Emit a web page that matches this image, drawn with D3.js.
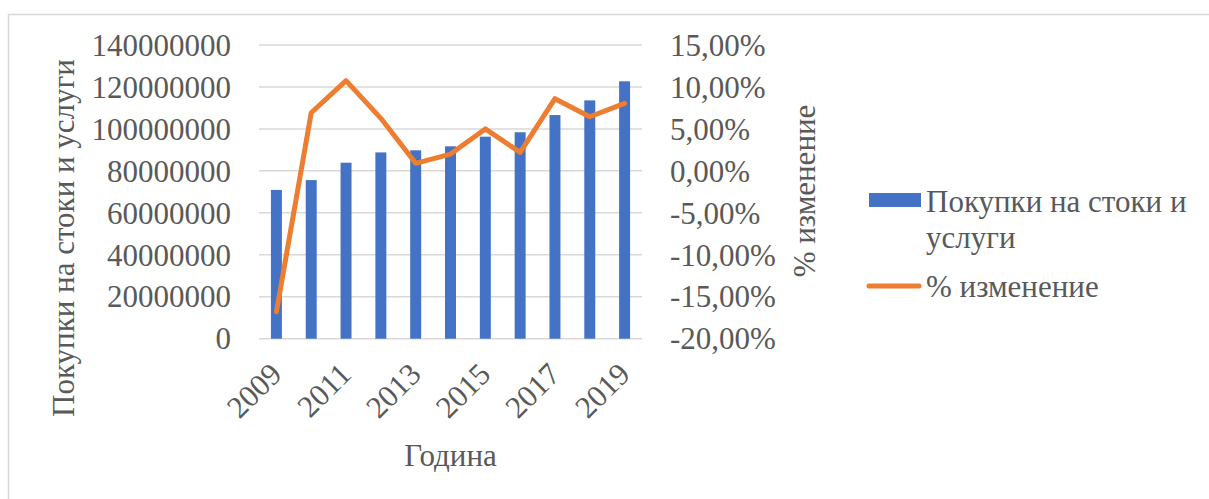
<!DOCTYPE html>
<html><head><meta charset="utf-8">
<script src="https://cdn.jsdelivr.net/npm/d3@7"></script>
<style>
html,body{margin:0;padding:0;background:#fff;}
svg{display:block;}
</style></head>
<body>
<svg id="c" width="1209" height="499"></svg>
<script>
const years = [2009,2010,2011,2012,2013,2014,2015,2016,2017,2018,2019];
const purchases = [70900000,75600000,83900000,88800000,89800000,91700000,96300000,98400000,106600000,113600000,122700000];
const pctChange = [-0.168,0.0693,0.1075,0.0626,0.009,0.020,0.050,0.022,0.086,0.0645,0.0805];
const leftTicks = [0,20000000,40000000,60000000,80000000,100000000,120000000,140000000];
const rightTicks = [-0.20,-0.15,-0.10,-0.05,0,0.05,0.10,0.15];
const xTickYears = [2009,2011,2013,2015,2017,2019];
const seriesNames = ["Покупки на стоки и услуги","% изменение"];
const legendLines = ["Покупки на стоки и","услуги"];
const axisTitles = {left:"Покупки на стоки и услуги", right:"% изменение", x:"Година"};

const svg = d3.select("#c");
const FS = 31;
const FONT = '"Liberation Serif"';
const TXT = "#595959";
const plot = {l:259, r:642, t:45, b:338.7};

function styleText(sel){
  return sel.style("font-family",FONT).style("font-size",FS+"px").style("fill",TXT);
}

// chart border
svg.append("path").attr("d","M8.5,499 L8.5,14.5 L1209,14.5")
  .attr("fill","none").attr("stroke","#d9d9d9").attr("stroke-width",1.5);

const x = d3.scaleBand().domain(years).range([plot.l, plot.r]).paddingInner(0.685).paddingOuter(0.3425);
const yL = d3.scaleLinear().domain([0,140000000]).range([plot.b, plot.t]);
const yR = d3.scaleLinear().domain([-0.20,0.15]).range([plot.b, plot.t]);

// gridlines
svg.append("g").selectAll("line").data(leftTicks).join("line")
  .attr("x1",plot.l).attr("x2",plot.r)
  .attr("y1",d=>yL(d)).attr("y2",d=>yL(d))
  .attr("stroke","#d9d9d9").attr("stroke-width",1.5);

// bars
svg.append("g").selectAll("rect").data(years).join("rect")
  .attr("x",d=>x(d)).attr("width",x.bandwidth())
  .attr("y",(d,i)=>yL(purchases[i])).attr("height",(d,i)=>yL(0)-yL(purchases[i]))
  .attr("fill","#4472C4");

// line
const cx = d=>x(d)+x.bandwidth()/2;
svg.append("path").datum(years)
  .attr("d", d3.line().x(d=>cx(d)).y((d,i)=>yR(pctChange[i])))
  .attr("fill","none").attr("stroke","#ED7D31").attr("stroke-width",5)
  .attr("stroke-linejoin","round").attr("stroke-linecap","round");

// left axis
const fmtL = d3.format("d");
const gL = svg.append("g").attr("transform",`translate(231,0)`)
  .call(d3.axisLeft(yL).tickValues(leftTicks).tickFormat(fmtL).tickSize(0).tickPadding(0));
gL.select(".domain").remove();
styleText(gL.selectAll("text")).attr("dy","0.33em");

// right axis
const fmtR = d=>(d<0?"-":"")+d3.format(".2f")(Math.abs(d)*100).replace(".",",")+"%";
const gR = svg.append("g").attr("transform",`translate(670,0)`)
  .call(d3.axisRight(yR).tickValues(rightTicks).tickFormat(fmtR).tickSize(0).tickPadding(0));
gR.select(".domain").remove();
styleText(gR.selectAll("text")).attr("dy","0.33em");

// x axis labels
const gX = svg.append("g");
styleText(gX.selectAll("text").data(xTickYears).join("text"))
  .attr("text-anchor","end")
  .attr("transform",d=>`translate(${cx(d)+7},376) rotate(-45)`)
  .text(d=>d);

// axis titles
styleText(svg.append("text")).attr("text-anchor","middle")
  .attr("transform","translate(74,238) rotate(-90)").text(axisTitles.left);
styleText(svg.append("text")).attr("text-anchor","middle")
  .attr("transform","translate(815,191) rotate(-90)").text(axisTitles.right);
styleText(svg.append("text")).attr("text-anchor","middle")
  .attr("x",(plot.l+plot.r)/2).attr("y",466).text(axisTitles.x);

// legend
const lg = svg.append("g");
lg.append("rect").attr("x",869).attr("y",193).attr("width",52).attr("height",14).attr("fill","#4472C4");
styleText(lg.append("text")).attr("x",926).attr("y",212).text(legendLines[0]);
styleText(lg.append("text")).attr("x",926).attr("y",248).text(legendLines[1]);
lg.append("line").attr("x1",869).attr("x2",919).attr("y1",286).attr("y2",286)
  .attr("stroke","#ED7D31").attr("stroke-width",5).attr("stroke-linecap","round");
styleText(lg.append("text")).attr("x",926).attr("y",297).text(seriesNames[1]);
</script>
</body></html>
